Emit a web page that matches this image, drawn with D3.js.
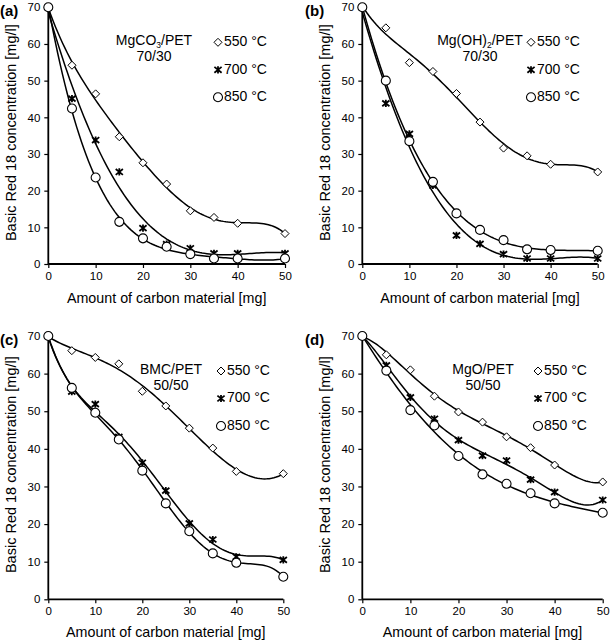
<!DOCTYPE html>
<html><head><meta charset="utf-8">
<script src="https://cdn.jsdelivr.net/npm/d3@7"></script>
<style>body{margin:0;background:#fff}svg{display:block}text{font-family:"Liberation Sans",Arial,sans-serif;fill:#000}</style>
</head><body>
<svg id="c" width="610" height="640"></svg>
<script>
const doses = [0,5,10,15,20,25,30,35,40,50];
const xTicks = [0,10,20,30,40,50];
const yTicks = [0,10,20,30,40,50,60,70];
const tempLabels = ["550 °C","700 °C","850 °C"];
const panelLetters = ["(a)","(b)","(c)","(d)"];
const materials = ["MgCO3/PET","Mg(OH)2/PET","BMC/PET","MgO/PET"];
const ratios = ["70/30","70/30","50/50","50/50"];

// panel (a) MgCO3/PET 70/30
const a550 = [70,54.2,46.4,34.7,27.6,21.8,14.5,12.7,11.1,8.3];
const a700 = [70,45.1,33.8,25.1,9.8,5.4,4.3,2.9,2.9,2.9];
const a850 = [70,42.4,23.6,11.5,7.0,4.7,2.7,1.5,1.5,1.5];
// panel (b) Mg(OH)2/PET 70/30
const b550 = [70,64.4,54.9,52.5,46.5,38.7,31.6,29.5,27.2,25.1];
const b700 = [70,43.8,35.5,21.4,7.8,5.5,2.7,1.5,1.5,1.5];
const b850 = [70,50.0,33.5,22.4,13.8,9.3,6.5,4.0,3.8,3.6];
// panel (c) BMC/PET 50/50
const c550 = [70,66.1,64.3,62.6,55.3,51.4,45.5,40.2,34.0,33.4];
const c700 = [70,55.2,51.9,43.2,36.3,28.9,20.2,15.9,11.3,10.5];
const c850 = [70,56.2,49.6,42.5,34.2,25.5,18.1,12.2,9.7,6.0];
// panel (d) MgO/PET 50/50
const d550 = [70,65.0,61.0,54.0,49.8,47.1,43.2,40.3,35.7,31.2];
const d700 = [70,62.2,53.7,48.0,42.3,38.2,36.9,31.8,28.5,26.4];
const d850 = [70,60.8,50.3,46.2,38.1,33.2,30.7,28.2,25.5,23.0];

const panelSeries = [[a550,a700,a850],[b550,b700,b850],[c550,c700,c850],[d550,d700,d850]];
// polynomial trendline order per series
const trendOrder = [[5,4,4],[5,4,4],[5,5,5],[5,5,5]];

// layout boxes
const boxes = [
  {x0:48.3,x1:285,yT:7.3,yB:264, ytx:12, legX:154, symX:218, xtOff:39},
  {x0:362.3,x1:597.7,yT:7.3,yB:264, ytx:326, legX:480, symX:531, xtOff:39},
  {x0:48.3,x1:283.3,yT:336,yB:599.3, ytx:12, legX:171, symX:221, xtOff:37.5},
  {x0:362.3,x1:602.7,yT:336,yB:599.3, ytx:326, legX:483, symX:538, xtOff:37.5}
];

// least squares polynomial trendline
function polyfit(xs, ys, deg){
  const n=deg+1; const A=[]; for(let i=0;i<n;i++){A.push(new Array(n+1).fill(0));}
  xs.forEach((x0,k)=>{const x=x0/50; for(let i=0;i<n;i++){for(let j=0;j<n;j++)A[i][j]+=Math.pow(x,i+j); A[i][n]+=ys[k]*Math.pow(x,i);}});
  for(let i=0;i<n;i++){let p=i; for(let r=i+1;r<n;r++) if(Math.abs(A[r][i])>Math.abs(A[p][i])) p=r; [A[i],A[p]]=[A[p],A[i]];
    for(let r=0;r<n;r++){ if(r===i) continue; const f=A[r][i]/A[i][i]; for(let c=i;c<=n;c++) A[r][c]-=f*A[i][c]; } }
  const coef=A.map((row,i)=>row[n]/row[i]);
  return x=>{const t=x/50; let s=0; for(let i=n-1;i>=0;i--) s=s*t+coef[i]; return s;};
}

const svg = d3.select("#c");
const symDiamond = (g,r)=>g.append("path").attr("d",`M0,${-r}L${r},0L0,${r}L${-r},0Z`).attr("fill","#fff").attr("stroke","#000").attr("stroke-width",1);
const symCircle = (g,r)=>g.append("circle").attr("r",r).attr("fill","#fff").attr("stroke","#000").attr("stroke-width",1.1);
const symStar = (g,r)=>g.append("path").attr("d",`M${-r},${-r*0.8}L${r},${r*0.8}M${-r},${r*0.8}L${r},${-r*0.8}M0,${-r}L0,${r}`).attr("fill","none").attr("stroke","#000").attr("stroke-width",1.8);
const symbols=[(g)=>symDiamond(g,4),(g)=>symStar(g,3.6),(g)=>symCircle(g,4.5)];

panelSeries.forEach((series,pi)=>{
  const b=boxes[pi];
  const x=d3.scaleLinear().domain([0,50]).range([b.x0,b.x1]);
  const y=d3.scaleLinear().domain([0,70]).range([b.yB,b.yT]);
  const g=svg.append("g");
  // axes
  const xa=g.append("g").attr("transform",`translate(0,${b.yB})`).call(d3.axisBottom(x).tickValues(xTicks).tickSize(4).tickPadding(4));
  const ya=g.append("g").attr("transform",`translate(${b.x0},0)`).call(d3.axisLeft(y).tickValues(yTicks).tickSize(4).tickPadding(4));
  [xa,ya].forEach(ax=>{ax.select(".domain").attr("stroke","#000").attr("stroke-width",1.8);
    ax.selectAll(".tick line").attr("stroke","#000").attr("stroke-width",1.2);
    ax.selectAll(".tick text").attr("font-size",11.5).attr("font-family","Liberation Sans, Arial, sans-serif").attr("fill","#000");});
  ya.select(".domain").attr("d",`M0,${b.yB}V${b.yT}`);
  xa.select(".domain").attr("d",`M${b.x0},0H${b.x1}`);
  // titles
  g.append("text").attr("x",(b.x0+b.x1)/2).attr("y",b.yB+b.xtOff).attr("text-anchor","middle").attr("font-size",14.3).text("Amount of carbon material [mg]");
  g.append("text").attr("transform",`translate(${b.ytx},${(b.yT+b.yB)/2-3}) rotate(-90)`).attr("text-anchor","middle").attr("dominant-baseline","middle").attr("font-size",14.5).text("Basic Red 18 concentration [mg/l]");
  g.append("text").attr("x",pi%2===0?0:305).attr("y",b.yT+9).attr("font-size",15).attr("font-weight","bold").text(panelLetters[pi]);
  // material legend
  const mt=g.append("text").attr("x",b.legX).attr("y",b.yT+38).attr("text-anchor","middle").attr("font-size",14);
  const m=materials[pi];
  if(m.indexOf("3")>=0||m.indexOf("2")>=0){
    const idx=m.search(/[23]/);
    mt.append("tspan").text(m.slice(0,idx));
    mt.append("tspan").attr("font-size",8.5).attr("dy",2.5).text(m[idx]);
    mt.append("tspan").attr("dy",-2.5).text(m.slice(idx+1));
  } else mt.text(m);
  g.append("text").attr("x",b.legX).attr("y",b.yT+53.5).attr("text-anchor","middle").attr("font-size",14).text(ratios[pi]);
  // curves + points
  series.forEach((vals,si)=>{
    const f=polyfit(doses,vals,trendOrder[pi][si]);
    const pts=d3.range(0,50.01,0.5).map(d=>[x(d),y(f(d))]);
    g.append("path").attr("d",d3.line()(pts)).attr("fill","none").attr("stroke","#000").attr("stroke-width",1.5);
  });
  series.forEach((vals,si)=>{
    vals.forEach((v,i)=>{const s=g.append("g").attr("transform",`translate(${x(doses[i])},${y(v)})`); symbols[si](s);});
    const ly=b.yT+35+si*27.5;
    const s=g.append("g").attr("transform",`translate(${b.symX},${ly})`); symbols[si](s);
    g.append("text").attr("x",b.symX+6).attr("y",ly).attr("dominant-baseline","middle").attr("font-size",14).text(tempLabels[si]);
  });
});
</script>
</body></html>
